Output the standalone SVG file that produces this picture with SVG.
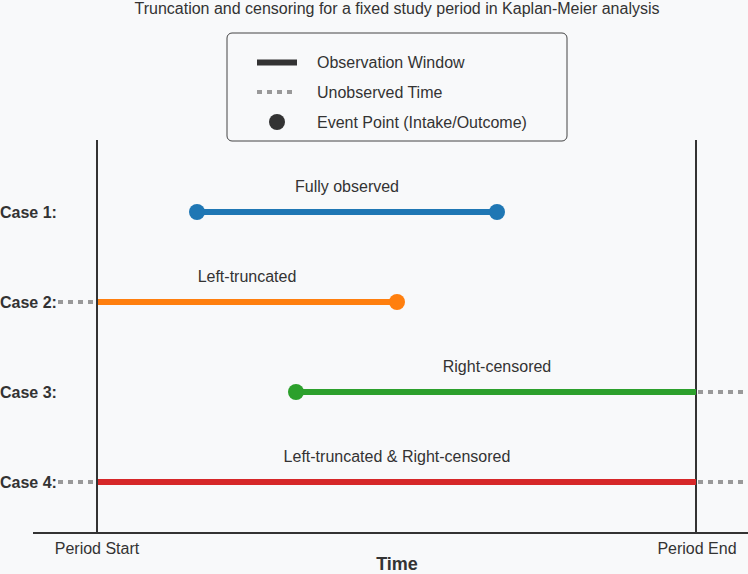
<svg xmlns="http://www.w3.org/2000/svg" width="748" height="574" viewBox="0 0 748 574">
<style>
text{font-family:"Liberation Sans",Arial,sans-serif;fill:#333}
.t{font-size:16px}
.c{font-size:16px;font-weight:bold}
.lbl{font-size:16px;text-anchor:middle}
.dot{stroke:#999;stroke-width:4;stroke-dasharray:5 5;fill:none}
.bar{stroke-width:6;fill:none}
.axis{stroke:#333;stroke-width:2;fill:none}
</style>
<rect width="748" height="574" fill="#f8f9fa"/>
<text x="397" y="14" font-size="16" text-anchor="middle">Truncation and censoring for a fixed study period in Kaplan-Meier analysis</text>
<g id="legend">
<rect x="227" y="33" width="340" height="108" rx="5" fill="#f8f9fa" stroke="#444" stroke-width="1"/>
<line x1="257" y1="62.5" x2="297" y2="62.5" stroke="#333" stroke-width="6"/>
<text class="t" x="317" y="68">Observation Window</text>
<line x1="257" y1="92" x2="295" y2="92" class="dot"/>
<text class="t" x="317" y="98">Unobserved Time</text>
<circle cx="277" cy="122" r="8" fill="#333"/>
<text class="t" x="317" y="128">Event Point (Intake/Outcome)</text>
</g>
<g id="axes">
<line class="axis" x1="97" y1="140" x2="97" y2="533"/>
<line class="axis" x1="696" y1="140" x2="696" y2="533"/>
<line class="axis" x1="33" y1="533" x2="748" y2="533"/>
<text class="lbl" x="97" y="554">Period Start</text>
<text class="lbl" x="697" y="554">Period End</text>
<text x="397" y="570" font-size="18" font-weight="bold" text-anchor="middle">Time</text>
</g>
<g id="connectors">
<line class="dot" x1="58" y1="302" x2="97" y2="302"/>
<line class="dot" x1="698" y1="392" x2="748" y2="392"/>
<line class="dot" x1="58" y1="482" x2="97" y2="482"/>
<line class="dot" x1="698" y1="482" x2="748" y2="482"/>
</g>
<g id="case1">
<text class="c" x="0" y="218">Case 1:</text>
<text class="lbl" x="347" y="192">Fully observed</text>
<line class="bar" x1="197" y1="212" x2="497" y2="212" stroke="#1f77b4"/>
<circle cx="197" cy="212" r="8" fill="#1f77b4"/>
<circle cx="497" cy="212" r="8" fill="#1f77b4"/>
</g>
<g id="case2">
<text class="c" x="0" y="308">Case 2:</text>
<text class="lbl" x="247" y="282">Left-truncated</text>
<line class="bar" x1="98" y1="302" x2="397" y2="302" stroke="#ff7f0e"/>
<circle cx="397" cy="302" r="8" fill="#ff7f0e"/>
</g>
<g id="case3">
<text class="c" x="0" y="398">Case 3:</text>
<text class="lbl" x="497" y="372">Right-censored</text>
<line class="bar" x1="296" y1="392" x2="696" y2="392" stroke="#2ca02c"/>
<circle cx="296" cy="392" r="8" fill="#2ca02c"/>
</g>
<g id="case4">
<text class="c" x="0" y="488">Case 4:</text>
<text class="lbl" x="397" y="462">Left-truncated &amp; Right-censored</text>
<line class="bar" x1="98" y1="482" x2="696" y2="482" stroke="#d62728"/>
</g>
</svg>
